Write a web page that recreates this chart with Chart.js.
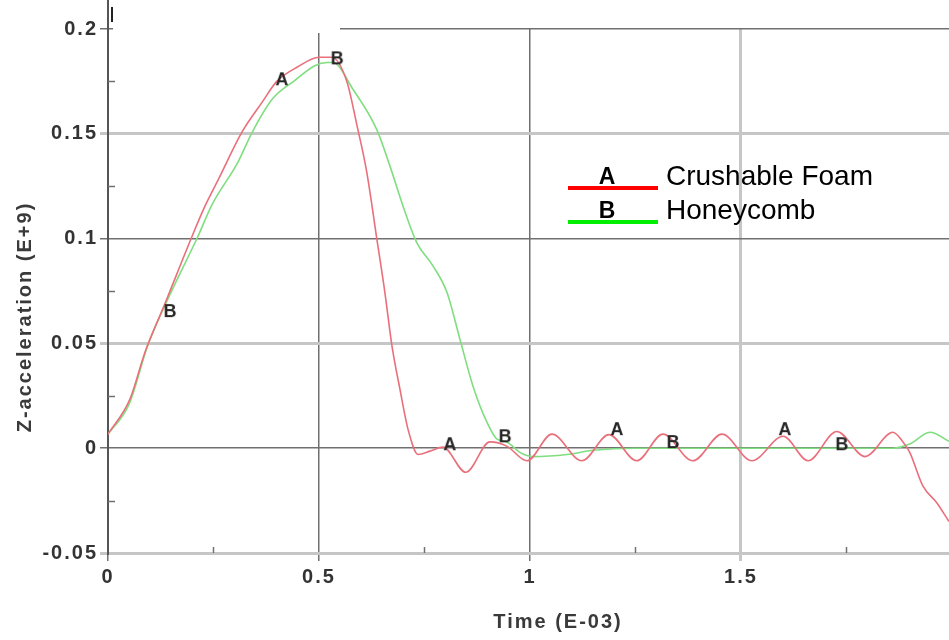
<!DOCTYPE html>
<html>
<head>
<meta charset="utf-8">
<title>Z-acceleration</title>
<script src="https://cdn.jsdelivr.net/npm/chart.js@4.4.1/dist/chart.umd.min.js"></script>
<style>
  html, body { margin: 0; padding: 0; background: #fff; }
  canvas { display: block; }
</style>
</head>
<body>
<canvas id="accelChart" width="949" height="640"></canvas>
<script>
// time in E-03 s, acceleration in E+9
const seriesNames = ["Crushable Foam", "Honeycomb"];
const seriesTags = ["A", "B"];

const foamTime = [0, 0.052, 0.088, 0.135, 0.199, 0.23, 0.261, 0.318, 0.365, 0.40, 0.45, 0.5, 0.53,
  0.566, 0.59, 0.613, 0.637, 0.656, 0.673, 0.692, 0.711, 0.735, 0.763, 0.794, 0.848, 0.905, 0.945,
  0.993, 1.052, 1.123, 1.187, 1.253, 1.315, 1.386, 1.455, 1.526, 1.6, 1.659, 1.727, 1.794, 1.86,
  1.884, 1.9, 1.931, 1.964, 1.993];
const foamAccel = [0.0067, 0.0234, 0.046, 0.069, 0.101, 0.1156, 0.128, 0.151, 0.165, 0.175, 0.182, 0.1865, 0.1865,
  0.175, 0.154, 0.132, 0.100, 0.0745, 0.0487, 0.028, 0.009, -0.003, -0.0014, 0.0005, -0.0115, 0.003, 0.001,
  -0.006, 0.0067, -0.006, 0.0065, -0.006, 0.0067, -0.006, 0.0067, -0.006, 0.0057, -0.006, 0.008, -0.004, 0.0076,
  0.003, -0.002, -0.018, -0.026, -0.035];

const honeyTime = [0, 0.05, 0.095, 0.152, 0.213, 0.246, 0.308, 0.341, 0.389, 0.443, 0.49, 0.52, 0.533,
  0.58, 0.637, 0.668, 0.699, 0.732, 0.77, 0.803, 0.834, 0.865, 0.898, 0.922, 0.945, 0.976, 1.007,
  1.088, 1.15, 1.25, 1.4, 1.6, 1.86, 1.9, 1.948, 1.993];
const honeyAccel = [0.0067, 0.021, 0.0495, 0.0755, 0.101, 0.116, 0.1365, 0.1505, 0.1665, 0.1755, 0.1825, 0.184, 0.184,
  0.1714, 0.152, 0.1347, 0.1156, 0.098, 0.087, 0.0745, 0.052, 0.0296, 0.0124, 0.0043, 0.003, -0.002, -0.004,
  -0.003, -0.001, 0, 0, 0, 0, 0.002, 0.0076, 0.0033];

// curve tags A / B
const foamTagTime = [0.412, 0.81, 1.206, 1.604];
const foamTagAccel = [0.176, 0.0019, 0.0091, 0.0091];
const honeyTagTime = [0.147, 0.543, 0.941, 1.339, 1.739];
const honeyTagAccel = [0.0654, 0.186, 0.0057, 0.0029, 0.0019];

const xTicks = [0, 0.5, 1, 1.5];
const yTicks = [-0.05, 0, 0.05, 0.1, 0.15, 0.2];
const xMinor = [0.25, 0.75, 1.25, 1.75];
const yMinor = [-0.025, 0.025, 0.075, 0.125, 0.175];

const FONT = "'Liberation Sans', Arial, sans-serif";
const lineColors = ["#e9707b", "#7fde7f"];
const keyColors = ["#ff0000", "#00ee00"];
const darkGrid = "#707070";
const lightGrid = "#c6c6c6";
const lightY = [0.15, 0.05, -0.05];
const lightX = [1.5];

function points(xs, ys) {
  return xs.map((x, i) => ({ x: x, y: ys[i] }));
}

function tagSprite(letter) {
  const c = document.createElement("canvas");
  c.width = 24;
  c.height = 24;
  const g = c.getContext("2d");
  g.font = "bold 18px " + FONT;
  g.fillStyle = "#262626";
  g.textAlign = "center";
  g.textBaseline = "middle";
  g.fillText(letter, 12, 13);
  return c;
}

const extras = {
  id: "extras",
  beforeDraw(chart) {
    // tick labels are set a little wide
    chart.ctx.letterSpacing = "2px";
  },
  beforeDatasetsDraw(chart) {
    chart.ctx.letterSpacing = "0px";
  },
  afterDraw(chart) {
    const ctx = chart.ctx;
    const area = chart.chartArea;
    const xs = chart.scales.x;
    const ys = chart.scales.y;
    ctx.save();

    // minor ticks pointing into the plot
    ctx.strokeStyle = darkGrid;
    ctx.lineWidth = 1.5;
    yMinor.forEach(v => {
      const py = Math.round(ys.getPixelForValue(v)) + 0.5;
      ctx.beginPath();
      ctx.moveTo(area.left, py);
      ctx.lineTo(area.left + 7, py);
      ctx.stroke();
    });
    xMinor.forEach(v => {
      const px = Math.round(xs.getPixelForValue(v)) + 0.5;
      ctx.beginPath();
      ctx.moveTo(px, area.bottom);
      ctx.lineTo(px, area.bottom - 6);
      ctx.stroke();
    });

    // left axis runs up to the top edge, blank header strip over the frame
    ctx.strokeStyle = "#555";
    ctx.lineWidth = 2;
    ctx.beginPath();
    ctx.moveTo(area.left, 0);
    ctx.lineTo(area.left, area.top);
    ctx.stroke();
    ctx.fillStyle = "#ffffff";
    ctx.fillRect(area.left + 5, 0, 227, area.top + 4);
    ctx.fillStyle = "#222";
    ctx.fillRect(area.left + 3, 7, 2, 15);

    // series key
    ctx.letterSpacing = "0px";
    ctx.textBaseline = "alphabetic";
    for (let i = 0; i < seriesNames.length; i++) {
      const y = 188 + i * 34;
      ctx.fillStyle = keyColors[i];
      ctx.fillRect(568, y - 2, 90, 4);
      ctx.fillStyle = "#000";
      ctx.textAlign = "center";
      ctx.font = "bold 23px " + FONT;
      ctx.fillText(seriesTags[i], 607, y - 4);
      ctx.textAlign = "left";
      ctx.font = "28px " + FONT;
      ctx.fillText(seriesNames[i], 666, y - 3);
    }

    // axis captions
    ctx.letterSpacing = "2px";
    ctx.fillStyle = "#3a3a3a";
    ctx.font = "bold 20px " + FONT;
    ctx.textAlign = "center";
    ctx.textBaseline = "middle";
    ctx.fillText("Time (E-03)", 558, 622);
    ctx.translate(25, 317);
    ctx.rotate(-Math.PI / 2);
    ctx.fillText("Z-acceleration (E+9)", 0, 0);
    ctx.restore();
    ctx.letterSpacing = "0px";
  }
};

new Chart(document.getElementById("accelChart"), {
  type: "line",
  data: {
    datasets: [
      {
        label: seriesTags[0],
        data: points(foamTagTime, foamTagAccel),
        showLine: false,
        pointStyle: tagSprite(seriesTags[0]),
        order: 0
      },
      {
        label: seriesTags[1],
        data: points(honeyTagTime, honeyTagAccel),
        showLine: false,
        pointStyle: tagSprite(seriesTags[1]),
        order: 0
      },
      {
        label: seriesNames[0],
        data: points(foamTime, foamAccel),
        borderColor: lineColors[0],
        borderWidth: 1.6,
        pointRadius: 0,
        cubicInterpolationMode: "monotone",
        order: 1
      },
      {
        label: seriesNames[1],
        data: points(honeyTime, honeyAccel),
        borderColor: lineColors[1],
        borderWidth: 1.6,
        pointRadius: 0,
        cubicInterpolationMode: "monotone",
        order: 2
      }
    ]
  },
  options: {
    responsive: false,
    animation: false,
    devicePixelRatio: 1,
    layout: { autoPadding: false, padding: { top: 29, right: 0, left: 0, bottom: 0 } },
    plugins: {
      legend: { display: false },
      tooltip: { enabled: false }
    },
    scales: {
      x: {
        type: "linear",
        min: 0,
        max: 1.993,
        afterBuildTicks: scale => { scale.ticks = xTicks.map(v => ({ value: v })); },
        afterFit: scale => { scale.height = 87; },
        ticks: {
          color: "#333",
          font: { family: FONT, size: 20, weight: "bold" },
          padding: 4,
          maxRotation: 0,
          callback: v => String(v)
        },
        grid: {
          color: c => lightX.includes(c.tick.value) ? lightGrid : darkGrid,
          lineWidth: c => lightX.includes(c.tick.value) ? 3 : 1.5,
          tickLength: 8
        },
        border: { color: lightGrid, width: 3 }
      },
      y: {
        type: "linear",
        min: -0.05,
        max: 0.2,
        afterBuildTicks: scale => { scale.ticks = yTicks.map(v => ({ value: v })); },
        afterFit: scale => { scale.width = 108; },
        ticks: {
          color: "#333",
          font: { family: FONT, size: 20, weight: "bold" },
          padding: 2,
          callback: v => String(v)
        },
        grid: {
          color: c => lightY.includes(c.tick.value) ? lightGrid : darkGrid,
          lineWidth: c => lightY.includes(c.tick.value) ? 3 : 1.5,
          tickLength: 8
        },
        border: { color: "#555", width: 2 }
      }
    }
  },
  plugins: [extras]
});
</script>
</body>
</html>
